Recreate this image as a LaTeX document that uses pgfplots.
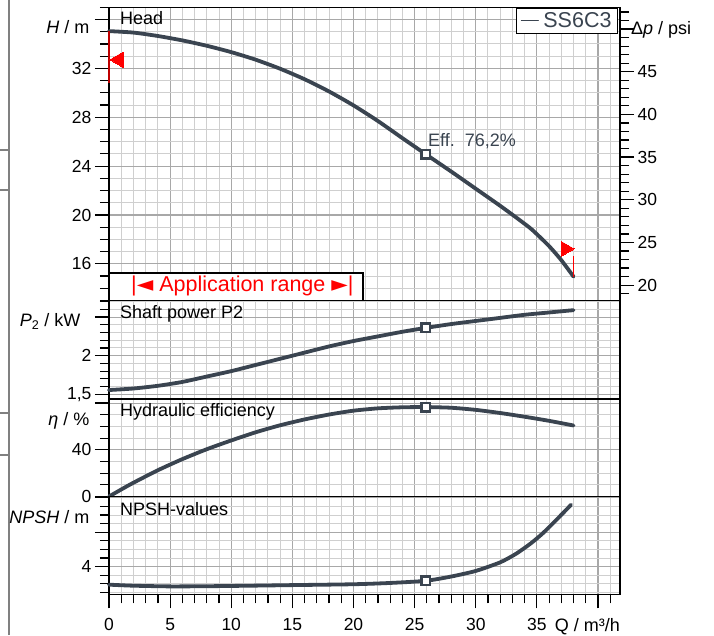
\documentclass[border=0pt]{standalone}
\usepackage{pgfplots}
\pgfplotsset{compat=1.18}
\usepackage{fontspec}
\setmainfont{Liberation Sans}
\newfontfamily\dejavu{DejaVu Sans}
\definecolor{curve}{HTML}{3A4450}
\definecolor{majgrid}{HTML}{A8A8A8}
\definecolor{mingrid}{HTML}{CFCFCF}
\definecolor{appred}{HTML}{FF0000}
\newcommand{\fs}{\fontsize{17.5}{20}\selectfont}
\newcommand{\ft}{\fontsize{18}{21}\selectfont}
\newcommand{\fb}{\fontsize{21.5}{24}\selectfont}

\pgfplotsset{
  panel/.style={
    scale only axis, width=511pt, anchor=north west,
    xmin=0, xmax=41.8,
    xtick={0,5,...,40}, minor xtick={0,...,41},
    grid=both,
    every axis grid/.style={},
    every major grid/.style={draw=majgrid, line width=1.1pt},
    every minor grid/.style={draw=mingrid, line width=1pt},
    axis line style={black, line width=1.3pt},
    tick style={black, line width=1.2pt},
    major tick length=14pt, minor tick length=9pt,
    tick align=outside,
    ytick pos=left,
    tick label style={font=\fs},
    /pgf/number format/assume math mode=true,
    /pgf/number format/use comma,
    clip=false,
  },
  upper/.style={xticklabels={}, x tick style={draw=none}, minor x tick style={draw=none}},
  curveplot/.style={color=curve, line width=3.8pt, line join=round, line cap=round, smooth, tension=0.4},
  bep/.style={only marks, mark=square*, mark size=4.3pt, mark options={fill=white, draw=curve, line width=2.4pt}, forget plot},
}

\begin{document}
\begin{tikzpicture}
\path[use as bounding box] (0pt,0pt) rectangle (714pt,635pt);
\begin{scope}[x=1pt, y=1pt]
% page edge remnants
\draw[gray, line width=1.4pt] (9,0) -- (9,635);
\foreach \yy in {150,190,413,455} \draw[gray, line width=1.2pt] (0,635-\yy) -- (9,635-\yy);
\end{scope}

% ---------- Head ----------
\begin{axis}[panel, upper, at={(109pt,627.7pt)}, height=293.2pt,
  ymin=13, ymax=37,
  ytick={16,20,...,36}, yticklabels={16,20,24,28,32,{}},
  minor ytick={13,...,37},
  legend style={at={(rel axis cs:1,1)}, anchor=north east, xshift=-2pt, yshift=-0.7pt,
    draw=black, line width=1pt, font=\fb, text=curve, inner xsep=4pt, inner ysep=2pt,
    cells={anchor=west}},
  legend image code/.code={\draw[curve, line width=1pt] (0pt,0pt) -- (17pt,0pt); \path[draw=none] (0pt,0pt) -- (20pt,0pt);},
]
\addplot[curveplot] coordinates {
  (0,35.05) (2,34.93) (4,34.65) (6,34.29) (8,33.85) (10,33.33) (12,32.71) (14,31.97)
  (16,31.11) (18,30.11) (20,28.97) (22,27.69) (24,26.29) (25.9,24.98) (28,23.55)
  (30,22.15) (32,20.75) (33.5,19.65) (34.6,18.8) (36,17.45) (37,16.3) (38,14.95)
};
\addlegendentry{SS6C3}
\addplot[bep] coordinates {(25.9,24.98)};
\addplot[only marks, mark=triangle*, mark size=8.7pt, mark options={rotate=90, fill=appred, draw=appred, line width=0pt}, forget plot]
  coordinates {(0.79,32.71)};
\addplot[only marks, mark=triangle*, mark size=8.7pt, mark options={rotate=-90, fill=appred, draw=appred, line width=0pt}, forget plot]
  coordinates {(37.33,17.23)};
\draw[appred!75!black, line width=1.3pt] (axis cs:0,35.05) -- (axis cs:0,30.8);
\draw[appred, line width=1.2pt] (axis cs:38,14.95) -- (axis cs:38,16.65);
\draw[black, line width=1.3pt, fill=white] (axis cs:0,13) rectangle (axis cs:20.78,15.25);
\end{axis}

% psi scale
\begin{axis}[scale only axis, width=511pt, height=293.2pt, anchor=north west, at={(109pt,627.7pt)},
  xmin=0, xmax=41.8, axis x line=none, axis y line*=right,
  ymin=18.2, ymax=52.55,
  ytick={20,25,...,50}, yticklabels={20,25,30,35,40,45,{}}, minor ytick={19,...,52},
  axis line style={black, line width=1.3pt},
  tick style={black, line width=1.2pt},
  major tick length=14pt, minor tick length=9pt, tick align=outside,
  tick label style={font=\fs}, /pgf/number format/assume math mode=true,
]
\end{axis}

% ---------- Shaft power ----------
\begin{axis}[panel, upper, at={(109pt,334.5pt)}, height=98.5pt,
  ymin=1.439, ymax=2.715,
  ytick={1.5,2,2.5}, yticklabels={{1,5},2,{}},
  minor ytick={1.5,1.6,1.7,1.8,1.9,2.0,2.1,2.2,2.3,2.4,2.5,2.6,2.7},
]
\addplot[curveplot] coordinates {
  (0,1.555) (2,1.575) (4,1.61) (6,1.66) (8,1.73) (10,1.8) (12,1.88) (14,1.96)
  (16,2.04) (18,2.12) (20,2.19) (22,2.25) (24,2.31) (25.9,2.36) (28,2.41)
  (30,2.45) (32,2.49) (34,2.53) (36,2.56) (38,2.59)
};
\addplot[bep] coordinates {(25.9,2.36)};
\end{axis}

% ---------- Efficiency ----------
\begin{axis}[panel, upper, at={(109pt,236pt)}, height=97.5pt,
  ymin=0, ymax=83.5,
  ytick={0,40,80}, yticklabels={0,40,{}},
  minor ytick={0,10,...,80},
]
\addplot[curveplot] coordinates {
  (0,0) (1,6) (2,11.8) (4,22.5) (6,32) (8,40.5) (10,48) (12,55) (14,61) (16,66)
  (18,70.2) (20,73.5) (22,75.5) (24,76.4) (25.9,76.6) (28,76) (30,74.2) (32,71.5)
  (34,68.3) (36,64.8) (38,60.8)
};
\addplot[bep] coordinates {(25.9,76.6)};
\end{axis}

% ---------- NPSH ----------
\begin{axis}[panel, at={(109pt,138.5pt)}, height=97.8pt,
  ymin=0.78, ymax=12.16,
  xtick pos=bottom,
  xticklabels={0,5,10,15,20,25,30,35,{}},
  xticklabel style={inner ysep=0pt, yshift=-10pt},
  ytick={4,8,12}, yticklabels={4,{},{}},
  minor ytick={1,...,12},
]
\addplot[curveplot] coordinates {
  (0,1.9) (2,1.78) (5,1.7) (8,1.72) (11.5,1.78) (15,1.85) (20,1.95) (23,2.1)
  (25.9,2.35) (28,2.85) (30,3.5) (32,4.5) (33.3,5.5) (34.5,6.7) (35.5,7.9)
  (36.5,9.3) (37.8,11.2)
};
\addplot[bep] coordinates {(25.9,2.35)};
\end{axis}

% ---------- texts ----------
\begin{scope}[x=1pt, y=1pt]
\node[anchor=base west, inner sep=0, font=\ft] at (120,610) {Head};
\node[anchor=base west, inner sep=0, font=\ft] at (120,316) {Shaft power P2};
\node[anchor=base west, inner sep=0, font=\ft] at (120,218.5) {Hydraulic efficiency};
\node[anchor=base west, inner sep=0, font=\ft] at (120,120) {NPSH-values};
\node[anchor=base west, inner sep=0, font=\ft, text=curve] at (428,488.3) {Eff.\ \ 76,2\%};

\node[anchor=base east, inner sep=0, font=\ft] at (89.5,601) {\textit{H} / m};
\node[anchor=base east, inner sep=0, font=\ft] at (80.5,308.3) {\textit{P}\textsubscript{2} / kW};
\node[anchor=base east, inner sep=0, font=\ft] at (89.5,210) {\textit{η} / \%};
\node[anchor=base east, inner sep=0, font=\ft] at (89.5,111.7) {\textit{NPSH} / m};
\node[anchor=base west, inner sep=0, font=\ft] at (631,600) {Δ\textit{p} / psi};
\node[anchor=base east, inner sep=0, font=\ft] at (620,4) {Q / m³/h};

\node[anchor=base west, inner sep=0, font=\fb, text=appred] at (131,343)
  {|{\dejavu ◄} Application range {\dejavu ►}|};
\end{scope}
\end{tikzpicture}
\end{document}
